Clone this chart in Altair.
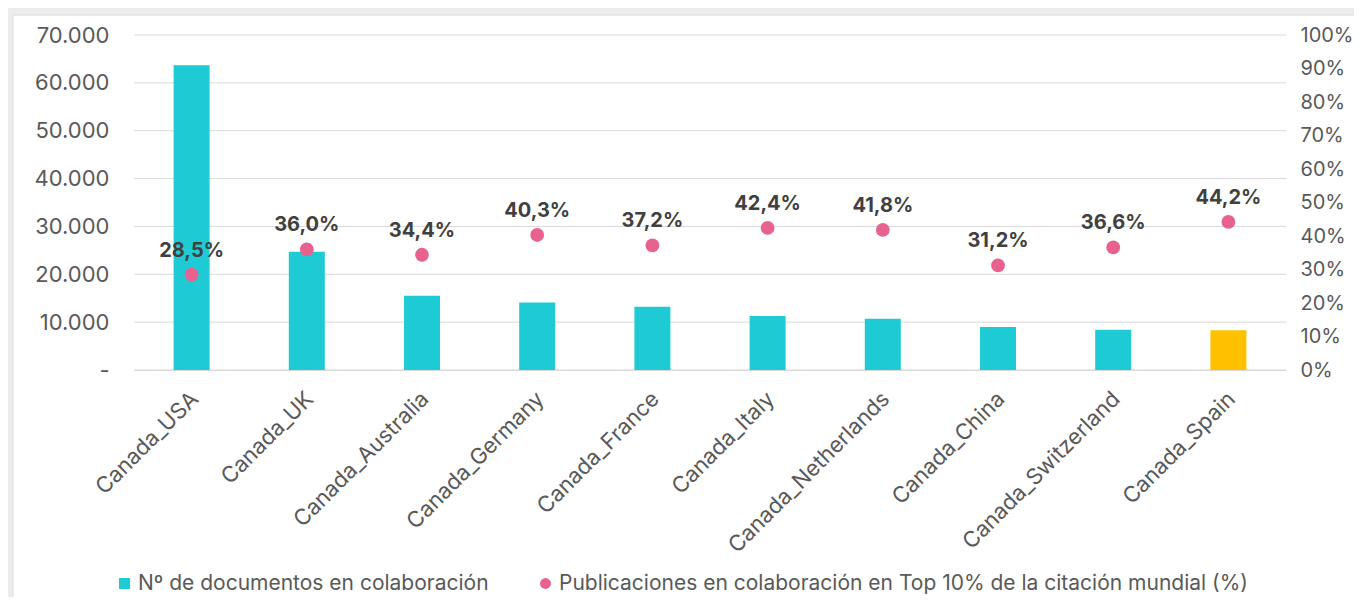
import altair as alt
import pandas as pd

paises = ["Canada_USA", "Canada_UK", "Canada_Australia", "Canada_Germany", "Canada_France",
          "Canada_Italy", "Canada_Netherlands", "Canada_China", "Canada_Switzerland", "Canada_Spain"]
documentos = [63700, 24700, 15500, 14100, 13200, 11300, 10700, 9000, 8400, 8300]
top10_pct = [28.5, 36.0, 34.4, 40.3, 37.2, 42.4, 41.8, 31.2, 36.6, 44.2]

serie_docs = "Nº de documentos en colaboración"
serie_pct = "Publicaciones en colaboración en Top 10% de la citación mundial (%)"
left_ticks = [0, 10000, 20000, 30000, 40000, 50000, 60000, 70000]
right_ticks = [0, 10, 20, 30, 40, 50, 60, 70, 80, 90, 100]

df = pd.DataFrame({"pais": paises, "docs": documentos, "pct": top10_pct})
df_grid = pd.DataFrame({"v": left_ticks})

FONT = "Inter"
CYAN = "#1ECBD4"
PINK = "#E8628F"
YELLOW = "#FFC000"
GRID = "#D9D9D9"
LABEL = "#595959"

x_enc = alt.X("pais:N", sort=paises, title=None,
              scale=alt.Scale(paddingInner=0.6875, paddingOuter=0.34375),
              axis=alt.Axis(labelAngle=-45, labelAlign="right", labelBaseline="top",
                            labelPadding=18, labelOffset=-4, ticks=False, domain=True,
                            domainColor=GRID, labelFont=FONT, labelFontSize=22,
                            labelColor=LABEL, grid=False, zindex=1, labelLimit=1000,
                            labelOverlap=False))

left_scale = alt.Scale(domain=[0, 70000], nice=False)
right_scale = alt.Scale(domain=[0, 100], nice=False)

left_axis = alt.Axis(values=left_ticks, orient="left", ticks=False, domain=False,
                     grid=False, labelPadding=25, zindex=1,
                     labelFont=FONT, labelFontSize=22, labelColor=LABEL,
                     labelExpr="datum.value == 0 ? '-\u00a0\u00a0\u00a0' : replace(format(datum.value, ','), /,/g, '.')")

right_axis = alt.Axis(values=right_ticks, orient="right", ticks=False, domain=False,
                      grid=False, labelPadding=14, labelFont=FONT, labelFontSize=20,
                      labelColor=LABEL, labelExpr="datum.value + '%'", zindex=1)


def legend_at(x, shape):
    return alt.Legend(title=None, orient="none", legendX=x, legendY=538,
                      direction="horizontal", labelFont=FONT, labelFontSize=21,
                      labelColor=LABEL, symbolSize=120, labelOffset=3, labelLimit=2000,
                      padding=0, symbolStrokeWidth=0, symbolType=shape)


frame = alt.Chart(alt.Data(values=[{"a": 1}])).mark_rect(
    fill="white", stroke="#DADADA", strokeWidth=1
).encode(x=alt.value(-121), x2=alt.value(1400), y=alt.value(-20), y2=alt.value(700))

grid = alt.Chart(df_grid).mark_rule(color=GRID, strokeWidth=1).encode(
    y=alt.Y("v:Q", scale=left_scale, axis=left_axis, title=None)
)

bars = alt.Chart(df).transform_calculate(serie=f"'{serie_docs}'").mark_bar().encode(
    x=x_enc,
    y=alt.Y("docs:Q", title=None, scale=left_scale, axis=left_axis),
    color=alt.condition(alt.datum.pais == "Canada_Spain", alt.value(YELLOW),
                        alt.Color("serie:N",
                                  scale=alt.Scale(domain=[serie_docs], range=[CYAN]),
                                  legend=legend_at(-20, "square"))),
)

left_layer = alt.layer(grid, bars)

points = alt.Chart(df).transform_calculate(serie=f"'{serie_pct}'").mark_point(
    filled=True, size=190, opacity=1, shape="circle"
).encode(
    x=alt.X("pais:N", sort=paises),
    y=alt.Y("pct:Q", title=None, scale=right_scale, axis=right_axis),
    fill=alt.Fill("serie:N", scale=alt.Scale(domain=[serie_pct], range=[PINK]),
                  legend=legend_at(401, "circle")),
)

labels = alt.Chart(df).transform_calculate(
    etiqueta="replace(format(datum.pct, '.1f'), '.', ',') + '%'"
).mark_text(font=FONT, fontSize=20, fontWeight="bold", color="#404040",
            dy=-24, baseline="middle").encode(
    x=alt.X("pais:N", sort=paises),
    y=alt.Y("pct:Q", title=None, scale=right_scale, axis=right_axis),
    text="etiqueta:N",
)

right_layer = alt.layer(points, labels)

chart = alt.layer(frame, left_layer, right_layer).resolve_scale(
    y="independent"
).properties(
    width=1152, height=335,
    autosize=alt.AutoSizeParams(type="none"),
    padding={"left": 126, "top": 27, "right": 68, "bottom": 227},
    background="#ECECEC",
).configure_view(stroke=None)

chart.save("out.html", embed_options={"renderer": "svg", "actions": False})
